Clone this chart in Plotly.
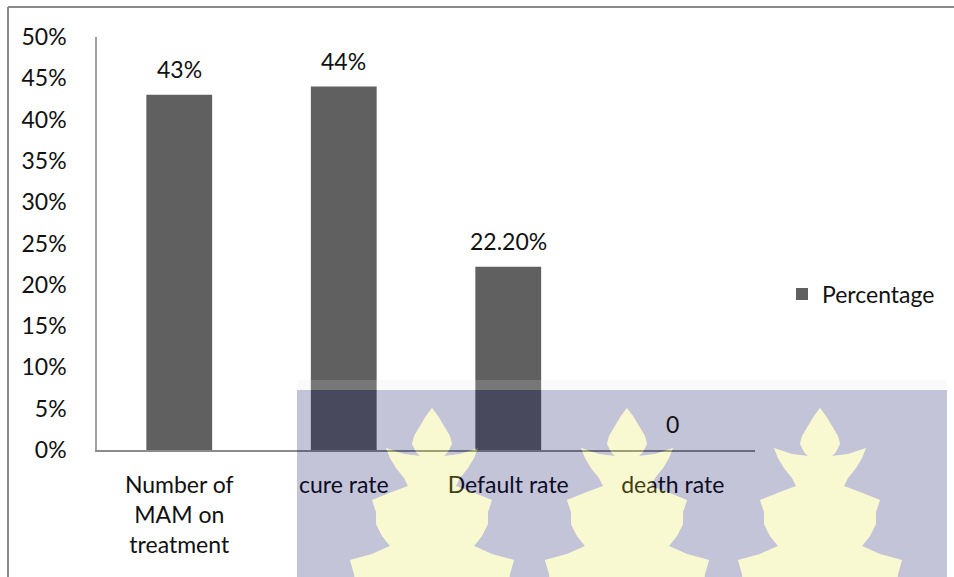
import plotly.graph_objects as go

categories = ["Number of<br>MAM on<br>treatment", "cure rate", "Default rate", "death rate"]
values = [43, 44, 22.2, 0]
value_labels = ["43%", "44%", "22.20%", "0"]
series_name = "Percentage"
y_ticks = [0, 5, 10, 15, 20, 25, 30, 35, 40, 45, 50]
y_tick_labels = [f"{v}%" for v in y_ticks]

W, H = 954, 577
L, R, T, B = 97, 199, 37, 127
PW, PH = W - L - R, H - T - B


def px(x):
    return (x - L) / PW


def py(y):
    return (H - B - y) / PH


FONT = "Lato, 'Open Sans', sans-serif"
FS = 23
BAR = "#606060"
TXT = "#111111"

fig = go.Figure()
fig.add_trace(go.Bar(
    x=categories, y=values, name=series_name,
    marker=dict(color=BAR, line=dict(width=0)),
    showlegend=True, hoverinfo="skip",
))

for c, v, t in zip(categories, values, value_labels):
    fig.add_annotation(x=c, y=v, text=t, showarrow=False, yanchor="middle",
                       yshift=26, font=dict(size=FS, color=TXT, family=FONT))

shapes = []
# outer frame (top and left)
shapes.append(dict(type="line", xref="paper", yref="paper", x0=px(8), x1=px(W + 5),
                   y0=py(7), y1=py(7), line=dict(color="#8a8a8a", width=2)))
shapes.append(dict(type="line", xref="paper", yref="paper", x0=px(8), x1=px(8),
                   y0=py(7), y1=py(H + 5), line=dict(color="#8a8a8a", width=2)))

# watermark leaves (relative outline, right side from tip)
leaf_right = [(0, 0), (6, 8), (12, 18), (18, 28), (20, 36), (16, 44), (12, 48),
              (28, 46), (46, 40), (42, 50), (36, 60), (28, 70), (24, 78),
              (40, 84), (60, 92), (56, 104), (56, 116), (50, 128), (42, 138),
              (60, 146), (82, 152), (78, 166), (76, 180), (70, 200)]


def leaf_path(cx, ty):
    pts = [(cx + dx, ty + dy) for dx, dy in leaf_right]
    pts += [(cx - dx, ty + dy) for dx, dy in reversed(leaf_right)]
    s = "M " + " L ".join(f"{px(x):.5f},{py(y):.5f}" for x, y in pts) + " Z"
    return s


leaf_centers = [432, 627, 820]
leaf_top = 408
rect = (f"M {px(297):.5f},{py(390):.5f} L {px(947):.5f},{py(390):.5f} "
        f"L {px(947):.5f},{py(H + 5):.5f} L {px(297):.5f},{py(H + 5):.5f} Z")
leaves = " ".join(leaf_path(cx, leaf_top) for cx in leaf_centers)
shapes.append(dict(type="path", xref="paper", yref="paper", path=rect + " " + leaves,
                   fillrule="evenodd", fillcolor="rgba(0,0,90,0.23)",
                   line=dict(width=0), layer="above"))
shapes.append(dict(type="path", xref="paper", yref="paper", path=leaves,
                   fillcolor="rgba(227,227,45,0.22)", line=dict(width=0), layer="above"))
# faint light band at top of watermark
shapes.append(dict(type="rect", xref="paper", yref="paper", x0=px(297), x1=px(947),
                   y0=py(390), y1=py(380), fillcolor="rgba(225,225,235,0.18)",
                   line=dict(width=0), layer="above"))

fig.update_layout(
    width=W, height=H, autosize=False,
    margin=dict(l=L, r=R, t=T, b=B, pad=0),
    paper_bgcolor="white", plot_bgcolor="white",
    font=dict(family=FONT, size=FS, color=TXT),
    bargap=0.6,
    shapes=shapes,
    showlegend=True,
    legend=dict(x=px(782), y=py(294), xanchor="left", yanchor="middle",
                font=dict(size=FS, family=FONT, color=TXT),
                bgcolor="rgba(0,0,0,0)", itemsizing="constant", itemwidth=30),
    xaxis=dict(showline=True, linecolor="#8c8c8c", linewidth=1.5, ticks="",
               showgrid=False, zeroline=False, ticklabelstandoff=14,
               tickfont=dict(size=FS, family=FONT, color=TXT)),
    yaxis=dict(range=[0, 50], tickvals=y_ticks, ticktext=y_tick_labels,
               showline=True, linecolor="#a0a0a0", linewidth=1.5, ticks="",
               showgrid=False, zeroline=False, ticklabelstandoff=24,
               tickfont=dict(size=FS, family=FONT, color=TXT)),
)

fig.write_html("out.html")
